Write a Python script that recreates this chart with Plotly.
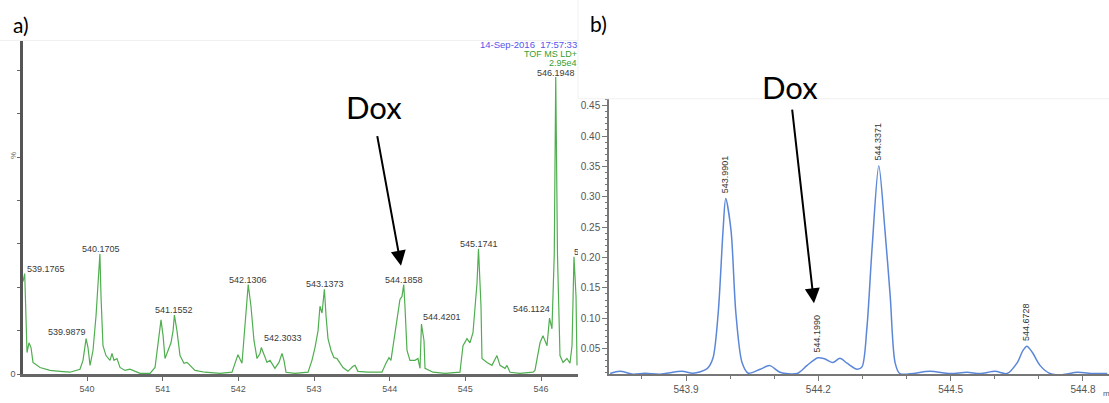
import plotly.graph_objects as go

W, H = 1109, 403

# ---------------- data: panel a (TOF MS spectrum, % intensity) ----------------
mz_a = [539.154, 539.1765, 539.207, 539.233, 539.260, 539.286, 539.379, 539.511, 539.643, 539.775,
        539.907, 539.947, 539.9879, 540.013, 540.040, 540.079, 540.119, 540.1705, 540.185, 540.211,
        540.251, 540.304, 540.330, 540.357, 540.396, 540.436, 540.502, 540.568, 540.700, 540.833,
        540.899, 540.938, 540.978, 541.005, 541.031, 541.071, 541.110, 541.137, 541.1552, 541.189,
        541.229, 541.282, 541.322, 541.361, 541.427, 541.559, 541.758, 541.916, 541.969, 541.995,
        542.048, 542.088, 542.1306, 542.167, 542.207, 542.247, 542.286, 542.3033, 542.352, 542.379,
        542.418, 542.458, 542.484, 542.537, 542.577, 542.603, 542.630, 542.749, 542.921, 542.973,
        543.013, 543.053, 543.079, 543.106, 543.1373, 543.159, 543.185, 543.225, 543.264, 543.304,
        543.343, 543.383, 543.449, 543.515, 543.542, 543.581, 543.714, 543.898, 543.951, 543.991,
        544.017, 544.057, 544.097, 544.136, 544.163, 544.1858, 544.202, 544.229, 544.268, 544.335,
        544.374, 544.401, 544.4201, 544.454, 544.467, 544.573, 544.731, 544.929, 544.969, 545.022,
        545.061, 545.101, 545.154, 545.1741, 545.207, 545.220, 545.286, 545.352, 545.418, 545.458,
        545.524, 545.550, 545.590, 545.722, 545.894, 545.920, 545.987, 546.026, 546.079, 546.100,
        546.1124, 546.145, 546.175, 546.1948, 546.218, 546.251, 546.291, 546.343, 546.383, 546.410,
        546.436, 546.463, 546.476]
int_a = [31.2, 33.9, 7.3, 10.6, 9.0, 4.0, 2.3, 1.3, 1.0, 0.7,
         1.7, 4.7, 12.0, 9.0, 3.0, 8.0, 19.6, 40.5, 26.2, 9.6,
         6.3, 4.7, 7.0, 4.7, 5.3, 2.3, 1.3, 1.7, 0.3, 0.3,
         2.3, 9.6, 18.3, 13.0, 5.3, 8.0, 10.6, 14.6, 19.9, 14.6,
         6.3, 3.7, 4.0, 3.0, 1.3, 0.7, 0.3, 0.7, 4.3, 6.6,
         3.7, 16.3, 30.2, 22.9, 11.3, 5.3, 7.0, 9.0, 5.3, 4.0,
         4.7, 3.0, 2.0, 4.0, 7.0, 4.7, 0.7, 0.3, 0.7, 4.7,
         9.0, 14.6, 22.9, 20.6, 28.6, 19.6, 12.0, 8.0, 5.6, 5.3,
         3.7, 2.3, 1.0, 2.7, 3.0, 1.0, 0.7, 0.7, 3.7, 5.6,
         4.7, 11.3, 17.3, 25.2, 26.2, 30.2, 22.9, 8.0, 4.7, 4.7,
         5.3, 2.0, 16.9, 11.3, 2.0, 0.7, 0.3, 0.7, 9.6, 12.0,
         10.6, 14.0, 30.6, 42.2, 22.9, 5.3, 4.0, 3.0, 6.3, 3.0,
         2.0, 3.0, 0.7, 0.3, 0.7, 1.3, 10.6, 13.0, 9.6, 16.3,
         18.9, 15.3, 40.0, 100.0, 40.0, 6.3, 4.0, 5.3, 3.7, 9.6,
         39.5, 26.2, 3.0]

peak_mz_a = [539.1765, 539.9879, 540.1705, 541.1552, 542.1306, 542.3033, 543.1373,
             544.1858, 544.4201, 545.1741, 546.1124, 546.1948]
peak_int_a = [33.9, 12.0, 40.5, 19.9, 30.2, 9.0, 28.6, 30.2, 16.9, 42.2, 18.9, 100.0]
peak_lbl_a = ["539.1765", "539.9879", "540.1705", "541.1552", "542.1306", "542.3033", "543.1373",
              "544.1858", "544.4201", "545.1741", "546.1124", "546.1948"]
cut_peak_mz_a, cut_peak_int_a, cut_peak_lbl_a = 546.436, 39.5, "546.4353"

xticks_a = [540, 541, 542, 543, 544, 545, 546]

# ---------------- data: panel b (zoom, intensity) ----------------
mz_b = [543.728, 543.750, 543.780, 543.807, 543.841, 543.891, 543.916, 543.948, 543.961, 543.973,
        543.984, 543.990, 544.002, 544.013, 544.027, 544.041, 544.068, 544.090, 544.113, 544.152,
        544.174, 544.199, 544.215, 544.233, 544.249, 544.265, 544.288, 544.299, 544.310, 544.322,
        544.3371, 544.351, 544.363, 544.374, 544.385, 544.453, 544.499, 544.537, 544.567, 544.601,
        544.628, 544.651, 544.664, 544.6728, 544.685, 544.703, 544.725, 544.753, 544.787, 544.823,
        544.855]
int_b = [0.009, 0.0126, 0.008, 0.0095, 0.008, 0.0126, 0.0095, 0.017, 0.034, 0.109,
         0.245, 0.297, 0.245, 0.109, 0.027, 0.0095, 0.016, 0.022, 0.011, 0.009,
         0.022, 0.035, 0.033, 0.027, 0.034, 0.026, 0.016, 0.020, 0.083, 0.217,
         0.351, 0.245, 0.136, 0.027, 0.009, 0.0126, 0.009, 0.011, 0.009, 0.0126,
         0.009, 0.027, 0.047, 0.054, 0.044, 0.022, 0.009, 0.007, 0.011, 0.009,
         0.009]
peak_mz_b = [543.9901, 544.1990, 544.3371, 544.6728]
peak_int_b = [0.297, 0.035, 0.351, 0.054]
peak_lbl_b = ["543.9901", "544.1990", "544.3371", "544.6728"]

yticks_b = [0.05, 0.10, 0.15, 0.20, 0.25, 0.30, 0.35, 0.40, 0.45]
xticks_b = [543.9, 544.2, 544.5, 544.8]

# ---------------- layout helpers ----------------
def px(x):
    return x / W

def py(y):
    return 1 - y / H

LBL_FONT = dict(family="Liberation Sans, Arial", size=9, color="#3a3a3a")
TICK_FONT_A = dict(family="Liberation Sans, Arial", size=9, color="#555")
TICK_FONT_B = dict(family="Liberation Sans, Arial", size=10, color="#555")

fig = go.Figure()

fig.add_trace(go.Scatter(x=mz_a, y=int_a, mode="lines", xaxis="x", yaxis="y",
                         line=dict(color="#4fae4f", width=1.2), hoverinfo="skip",
                         showlegend=False))
# clipped (truncated) label at the right edge of panel a
fig.add_trace(go.Scatter(x=[cut_peak_mz_a], y=[cut_peak_int_a], mode="text", xaxis="x", yaxis="y",
                         text=[cut_peak_lbl_a], textposition="top right", cliponaxis=True,
                         textfont=LBL_FONT, showlegend=False, hoverinfo="skip"))

fig.add_trace(go.Scatter(x=mz_b, y=int_b, mode="lines", xaxis="x2", yaxis="y2",
                         line=dict(color="#5b87d8", width=1.5, shape="spline", smoothing=0.8),
                         hoverinfo="skip", showlegend=False))

annotations = []
# panel a peak labels: (xanchor, xshift, yshift)
lbl_style_a = {
    "539.1765": ("left", 0, 5),
    "539.9879": ("right", 2, 7),
    "540.1705": ("center", 1, -2),
    "541.1552": ("center", 0, -2),
    "542.1306": ("center", 0, -2),
    "542.3033": ("left", 1, 10),
    "543.1373": ("center", 1, -2),
    "544.1858": ("center", 0, -2),
    "544.4201": ("left", 0, 7),
    "545.1741": ("center", 0, -2),
    "546.1124": ("right", 2, 9),
    "546.1948": ("center", 0, -3),
}
for m, v, t in zip(peak_mz_a, peak_int_a, peak_lbl_a):
    xa, xs, ys = lbl_style_a[t]
    annotations.append(dict(x=m, y=v, xref="x", yref="y", text=t, showarrow=False,
                            xanchor=xa, yanchor="middle" if xa != "center" else "bottom",
                            xshift=xs, yshift=ys, font=LBL_FONT))

# panel b peak labels (rotated)
for m, v, t in zip(peak_mz_b, peak_int_b, peak_lbl_b):
    annotations.append(dict(x=m, y=v, xref="x2", yref="y2", text=t, showarrow=False,
                            textangle=-90, yanchor="bottom", yshift=3, xshift=-1,
                            font=dict(family="Liberation Sans, Arial", size=9, color="#333")))

def txt(x, y, text, font, xanchor="center", yanchor="middle", angle=0):
    return dict(x=px(x), y=py(y), xref="paper", yref="paper", text=text, showarrow=False,
                xanchor=xanchor, yanchor=yanchor, textangle=angle, font=font)

# header of panel a
annotations += [
    txt(579, 45, "14-Sep-2016  17:57:33", dict(family="Liberation Sans, Arial", size=9.5, color="#5555ee"), "right"),
    txt(579, 54.5, "TOF MS LD+", dict(family="Liberation Sans, Arial", size=9, color="#33a033"), "right"),
    txt(579, 63.5, "2.95e4", dict(family="Liberation Sans, Arial", size=9, color="#33a033"), "right"),
    txt(13, 158, "%", dict(family="Liberation Sans, Arial", size=8, color="#666"), angle=-90),
    txt(1101, 398, "m/z", dict(family="Liberation Sans, Arial", size=8, color="#555"), "left"),
    # panel letters
    txt(11, 25, "a)", dict(family="Lato, Open Sans", size=21, color="black"), "left"),
    txt(588, 24, "b)", dict(family="Lato, Open Sans", size=21, color="black"), "left"),
    # Dox labels
    txt(374, 108, "Dox", dict(family="Lato, Open Sans", size=31, color="black")),
    txt(790, 88, "Dox", dict(family="Lato, Open Sans", size=31, color="black")),
    # arrows
    dict(x=px(401), y=py(269), xref="paper", yref="paper", text="", showarrow=True,
         axref="pixel", ayref="pixel", ax=377 - 401, ay=138 - 269,
         arrowhead=2, arrowsize=1.5, arrowwidth=2, arrowcolor="black", standoff=0),
    dict(x=px(814), y=py(307), xref="paper", yref="paper", text="", showarrow=True,
         axref="pixel", ayref="pixel", ax=792 - 814, ay=112 - 307,
         arrowhead=2, arrowsize=1.5, arrowwidth=2, arrowcolor="black", standoff=0),
]

shapes = [
    dict(type="line", xref="paper", yref="paper", x0=0, x1=px(578), y0=py(41), y1=py(41),
         line=dict(color="#f0f0f0", width=1)),
    dict(type="line", xref="paper", yref="paper", x0=px(578), x1=px(578), y0=py(0), y1=py(100),
         line=dict(color="#f0f0f0", width=1)),
    dict(type="line", xref="paper", yref="paper", x0=px(578), x1=1, y0=py(100), y1=py(100),
         line=dict(color="#f0f0f0", width=1)),
]

ya_range_top = (379 - 41) / 3.01
ytick_step_a = 44 / 3.01

fig.update_layout(
    width=W, height=H, margin=dict(l=0, r=0, t=0, b=0),
    paper_bgcolor="white", plot_bgcolor="white", showlegend=False,
    annotations=annotations, shapes=shapes,
    xaxis=dict(domain=[px(23), px(578)], range=[539.154, 546.489], anchor="y",
               showgrid=False, zeroline=False, showline=True, linecolor="#666", linewidth=2.5,
               ticks="outside", ticklen=4, tickcolor="#666", tickwidth=1,
               tickvals=xticks_a, ticktext=[str(v) for v in xticks_a], tickfont=TICK_FONT_A),
    yaxis=dict(domain=[py(379), py(41)], range=[0, ya_range_top], anchor="x",
               showgrid=False, zeroline=False, showline=True, linecolor="#555", linewidth=2.5,
               ticks="outside", ticklen=3, tickcolor="#666", tickwidth=1,
               tickvals=[k * ytick_step_a for k in range(8)],
               ticktext=["0"] + [""] * 7, tickfont=TICK_FONT_A),
    xaxis2=dict(domain=[px(609), 1], range=[543.7254, 544.859], anchor="y2",
                showgrid=False, zeroline=False, showline=True, linecolor="#777", linewidth=1.5,
                ticks="outside", ticklen=5, tickcolor="#777",
                tickvals=xticks_b, ticktext=[f"{v:.1f}" for v in xticks_b], tickfont=TICK_FONT_B,
                minor=dict(ticks="outside", ticklen=3, tickcolor="#777", tick0=543.9, dtick=0.1)),
    yaxis2=dict(domain=[py(379), py(100)], range=[0.00772, 0.4614], anchor="x2",
                showgrid=False, zeroline=False, showline=True, linecolor="#777", linewidth=1.5,
                ticks="outside", ticklen=5, tickcolor="#777",
                tickvals=yticks_b, ticktext=[f"{v:.2f}" for v in yticks_b], tickfont=TICK_FONT_B,
                minor=dict(ticks="outside", ticklen=2, tickcolor="#777", tick0=0, dtick=0.01)),
)

fig.write_html("out.html")
